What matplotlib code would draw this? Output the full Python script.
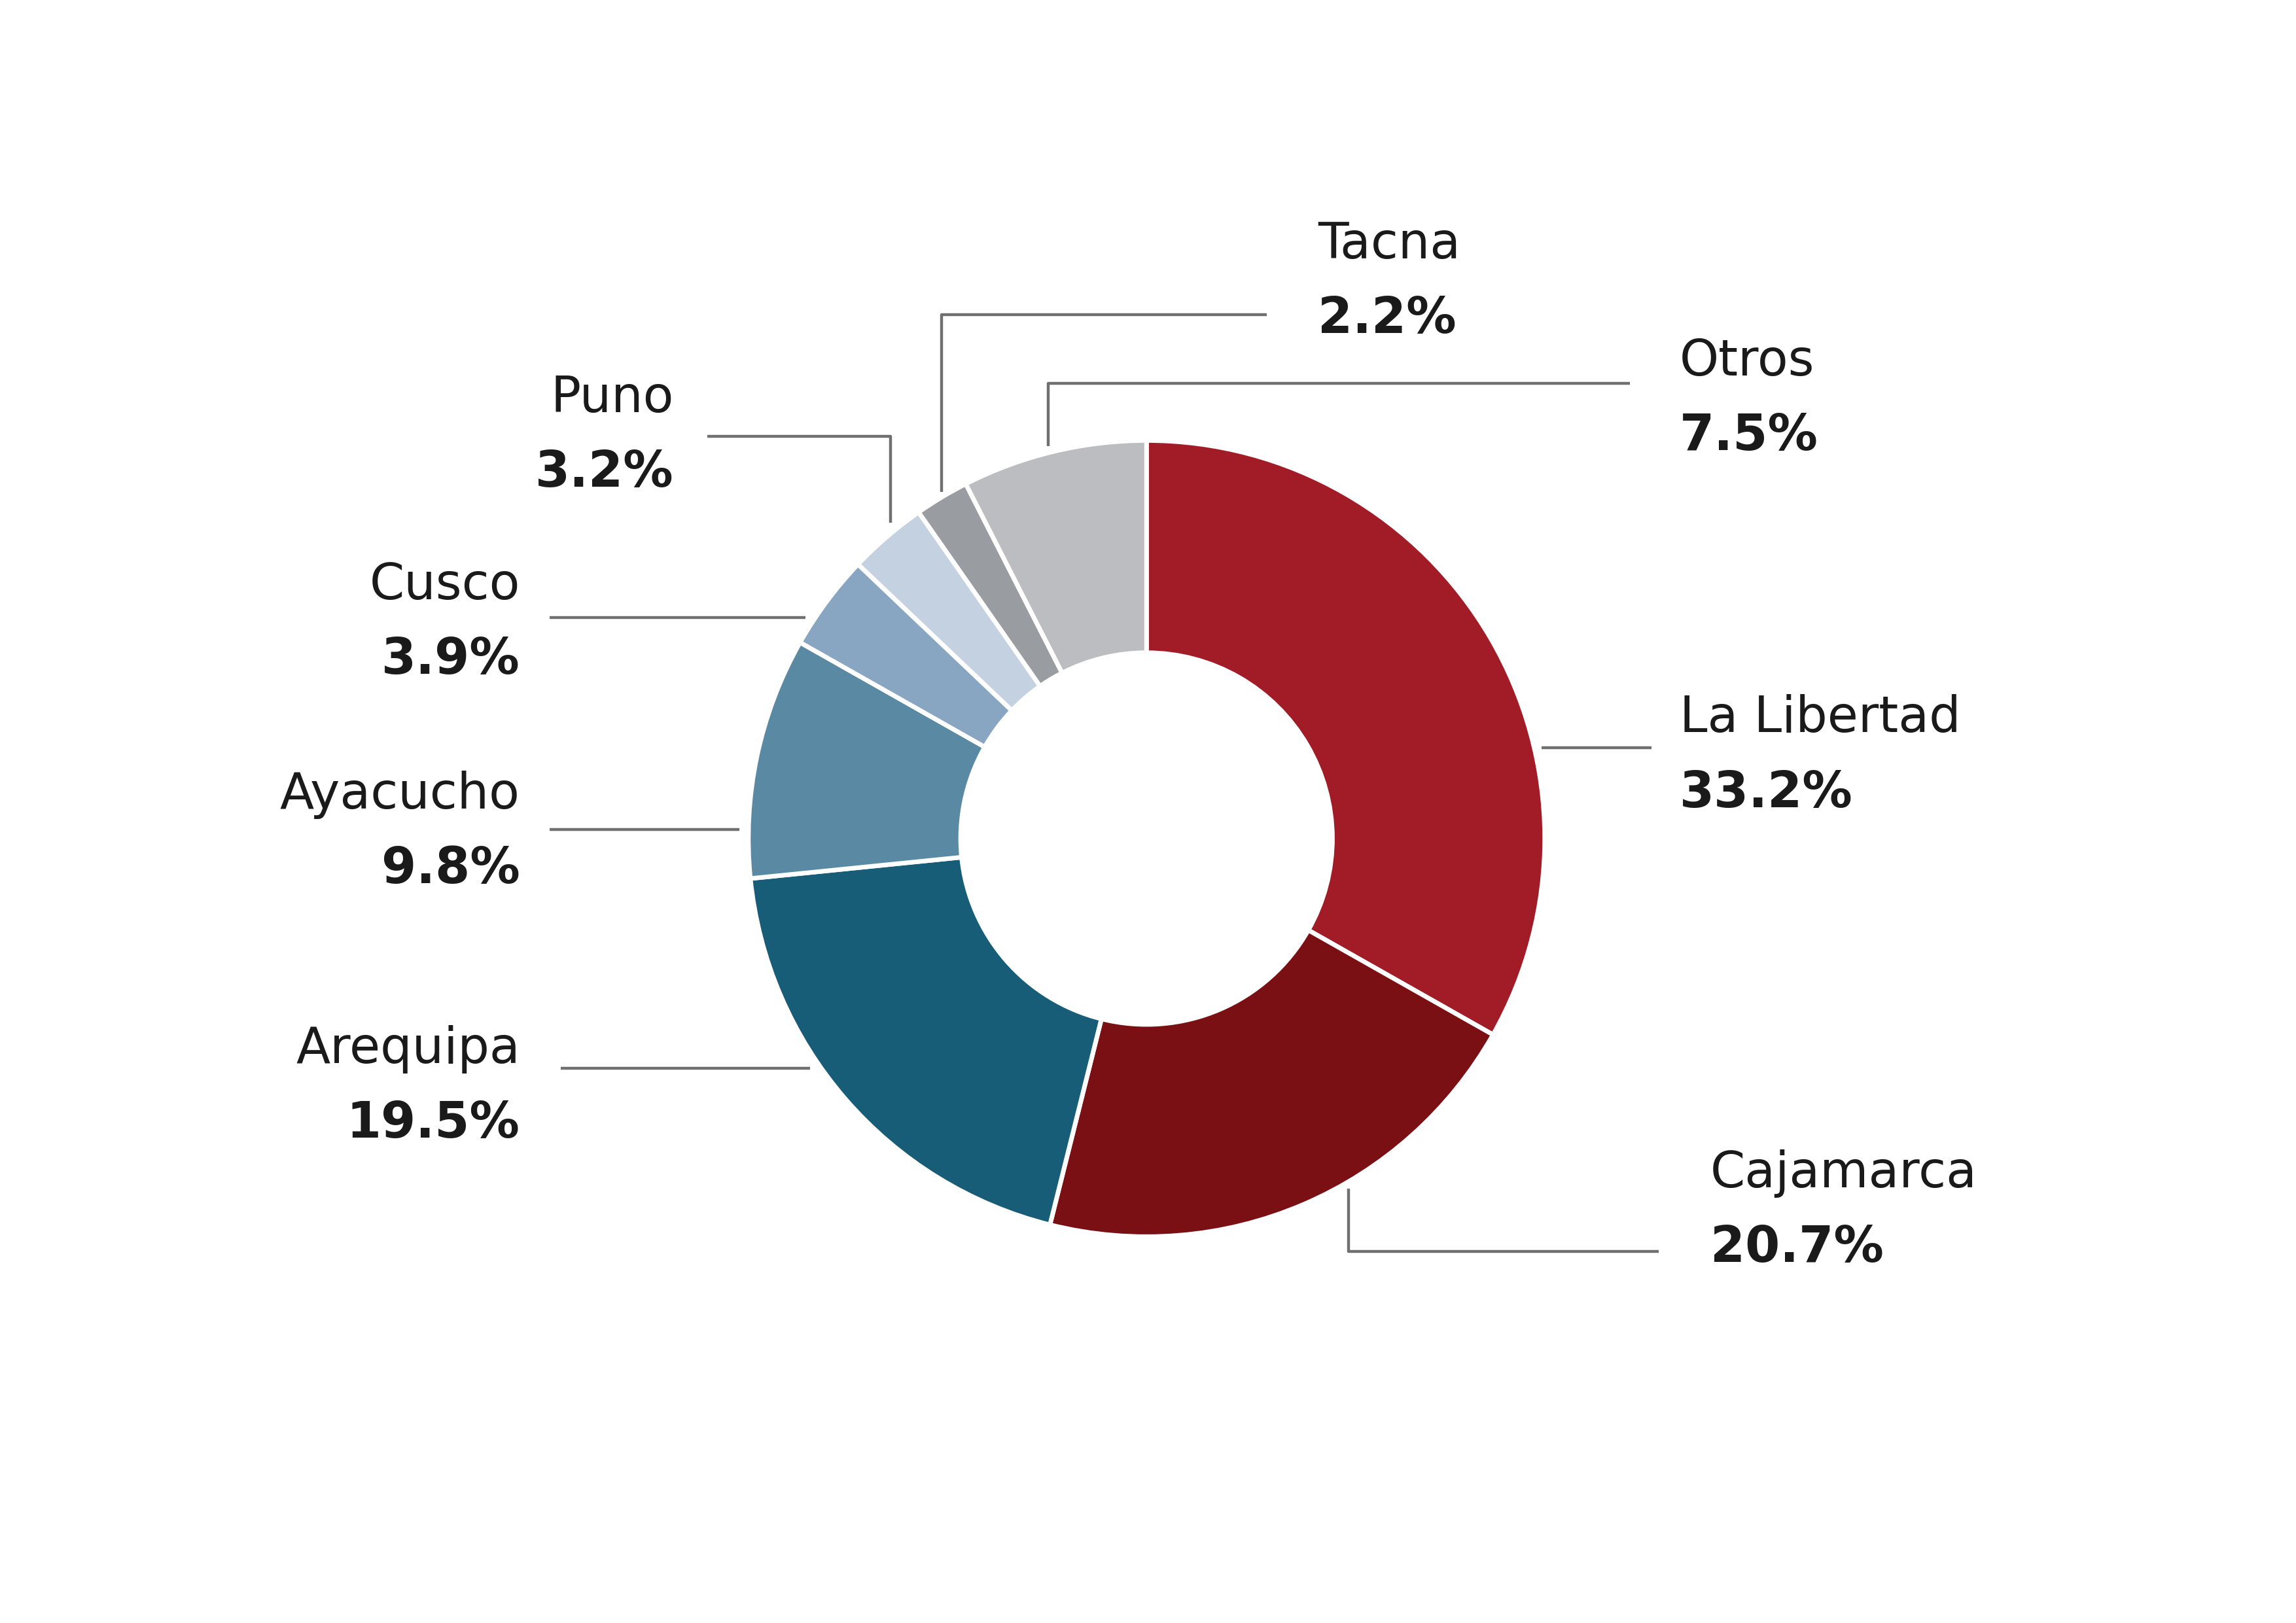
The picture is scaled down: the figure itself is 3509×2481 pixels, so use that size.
import matplotlib.pyplot as plt

# shares by region, clockwise from the top
regions = ["La Libertad", "Cajamarca", "Arequipa", "Ayacucho", "Cusco", "Puno", "Tacna", "Otros"]
shares = [33.2, 20.7, 19.5, 9.8, 3.9, 3.2, 2.2, 7.5]
colors = ["#a11c27", "#7a1013", "#175d78", "#5a8aa3", "#88a6c2", "#c3d1e0", "#999ca1", "#bcbdc1"]

# label layout in reference pixel space (1568 x 1109)
# name: (text x, name y, ha, leader points)
layout = {
    "La Libertad": (1147, 491, "left", [(1053, 511), (1128, 511)]),
    "Cajamarca": (1168, 802, "left", [(921, 812), (921, 855), (1133, 855)]),
    "Arequipa": (355, 717, "right", [(553, 730), (383, 730)]),
    "Ayacucho": (355, 543, "right", [(505, 567), (375, 567)]),
    "Cusco": (355, 400, "right", [(550, 422), (375, 422)]),
    "Puno": (460, 272, "right", [(608, 357), (608, 298), (483, 298)]),
    "Tacna": (900, 167, "left", [(643, 336), (643, 215), (865, 215)]),
    "Otros": (1147, 247, "left", [(716, 305), (716, 262), (1113, 262)]),
}

W, H = 1568, 1109
fig = plt.figure(figsize=(35.09, 24.81), dpi=100)
ax = fig.add_axes([0, 0, 1, 1])

# y axis is inverted, so startangle -90 + counterclock draws clockwise from top
ax.pie(shares, colors=colors, startangle=-90, counterclock=True,
       center=(783, 573), radius=272,
       wedgeprops=dict(width=272 - 127, edgecolor="white", linewidth=5))

ax.set_xlim(0, W)
ax.set_ylim(H, 0)
ax.set_aspect("equal")
ax.axis("off")

for name, share in zip(regions, shares):
    tx, ty, ha, pts = layout[name]
    xs = [p[0] for p in pts]
    ys = [p[1] for p in pts]
    ax.plot(xs, ys, color="#707070", lw=3.2, solid_capstyle="butt", zorder=1)
    ax.text(tx, ty, name, ha=ha, va="center", fontsize=55,
            family="DejaVu Sans", color="#1a1a1a")
    ax.text(tx, ty + 51, f"{share:.1f}%", ha=ha, va="center", fontsize=55,
            family="DejaVu Sans", fontweight="bold", color="#1a1a1a")

fig.savefig("out.png", dpi=100, facecolor="white")
